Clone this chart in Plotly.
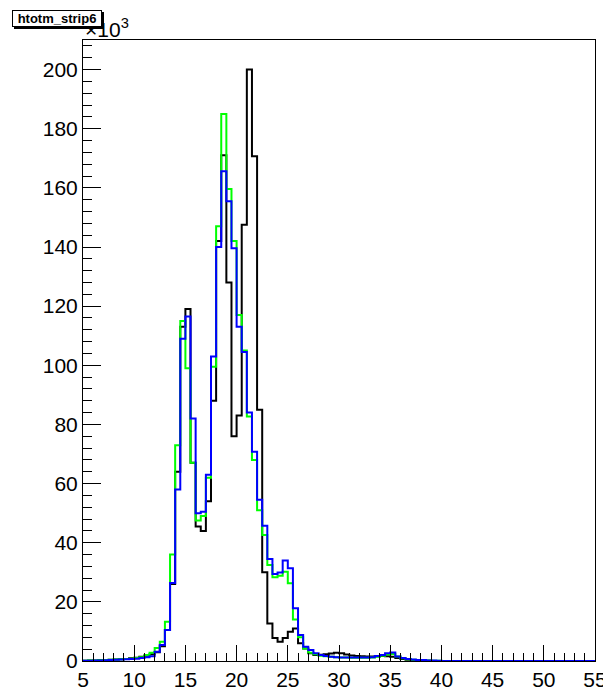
import numpy as np
from plotly import graph_objects as go

# histogram htotm_strip6: 100 bins of width 0.5 from 5 to 55, contents in units of 10^3
x_low = 5.0
x_high = 55.0
n_bins = 100

h_black = [0.1, 0.15, 0.2, 0.3, 0.35, 0.4, 0.5, 0.6, 0.7, 0.9,
           1.1, 1.4, 1.8, 2.3, 3.0, 5.0, 10.5, 26, 64, 113,
           119, 67, 45.5, 44, 54, 88, 142, 171, 128, 76,
           83, 147.5, 200, 170.7, 85, 30, 12.7, 7.8, 6.5, 7.8,
           9.9, 11, 6, 4.2, 2.6, 2.0, 2.1, 2.3, 2.5, 2.8,
           2.6, 2.2, 1.9, 1.7, 1.6, 1.5, 1.5, 1.6, 1.7, 1.6,
           1.4, 1.0, 0.7, 0.4, 0.25, 0.15, 0.08, 0.05, 0.03, 0.02] + [0] * 30

h_green = [0.1, 0.15, 0.2, 0.25, 0.3, 0.4, 0.5, 0.6, 0.7, 0.8,
           1.0, 1.3, 2.0, 2.8, 4.4, 6.5, 13.3, 36, 73, 115,
           99, 67, 47.5, 49, 62, 99.5, 147, 185, 159.6, 142,
           117, 105, 82.7, 68, 51, 42.6, 32.5, 28.3, 28.8, 30.2,
           26.3, 14, 8, 4.2, 2.8, 2.3, 1.8, 1.6, 1.4, 1.3,
           1.2, 1.2, 1.1, 1.1, 1.1, 1.1, 1.2, 1.4, 1.8, 2.2,
           2.4, 1.5, 0.9, 0.6, 0.4, 0.3, 0.2, 0.15, 0.1, 0.05] + [0] * 30

h_blue = [0.05, 0.1, 0.15, 0.2, 0.25, 0.3, 0.4, 0.5, 0.6, 0.7,
          0.8, 1.0, 1.3, 1.6, 3.1, 5.4, 10.5, 26.4, 58, 109,
          116.5, 82, 50, 50.5, 63, 103, 140, 165.6, 155.5, 139.6,
          113, 104.5, 84, 70.8, 54.5, 45.7, 34.5, 29.4, 29.9, 34,
          31.4, 17.8, 8.8, 4.8, 3.7, 2.6, 2.0, 1.7, 1.4, 1.3,
          1.2, 1.2, 1.2, 1.2, 1.2, 1.2, 1.3, 1.7, 2.0, 2.6,
          2.9, 1.5, 1.0, 0.7, 0.5, 0.35, 0.3, 0.2, 0.15, 0.1] + [0] * 30

x_ticks = [5, 10, 15, 20, 25, 30, 35, 40, 45, 50, 55]
y_ticks = [0, 20, 40, 60, 80, 100, 120, 140, 160, 180, 200]

edges = np.linspace(x_low, x_high, n_bins + 1)
font = "Liberation Sans, Arial, Helvetica, sans-serif"


def step(vals, color, name):
    y = list(vals) + [vals[-1]]
    return go.Scatter(x=edges, y=y, mode="lines", name=name,
                      line=dict(color=color, width=2, shape="hv"))


fig = go.Figure()
fig.add_trace(step(h_black, "#000000", "black"))
fig.add_trace(step(h_green, "#00ff00", "green"))
fig.add_trace(step(h_blue, "#0000ff", "blue"))

# page body has an 8px margin, so the figure is a bit smaller than the window
fig.update_layout(
    width=603, height=682,
    margin=dict(l=75, r=16, t=32, b=29),
    paper_bgcolor="white", plot_bgcolor="white",
    showlegend=False,
    font=dict(family=font, size=21, color="black"),
)
fig.update_xaxes(range=[x_low, x_high], tickvals=x_ticks, automargin=False,
                 ticks="inside", ticklen=16, tickwidth=1, tickcolor="black",
                 minor=dict(dtick=1, ticks="inside", ticklen=8, tickwidth=1, tickcolor="black"),
                 showline=True, linecolor="black", linewidth=1, mirror=True,
                 showgrid=False, zeroline=False, tickfont=dict(size=21))
fig.update_yaxes(range=[0, 210], tickvals=y_ticks, automargin=False,
                 ticks="inside", ticklen=18, tickwidth=1, tickcolor="black",
                 minor=dict(dtick=4, ticks="inside", ticklen=9, tickwidth=1, tickcolor="black"),
                 showline=True, linecolor="black", linewidth=1, mirror=True,
                 showgrid=False, zeroline=False, tickfont=dict(size=21))

# x10^3 exponent label
fig.add_annotation(text="×10<sup>3</sup>", xref="paper", yref="paper",
                   x=0.0, y=0.995, xanchor="left", yanchor="bottom",
                   showarrow=False, font=dict(size=21, family=font))
# title box with shadow
fig.add_annotation(text="<b>htotm_strip6</b>", xref="paper", yref="paper",
                   x=(14 - 83) / 512, y=(661 - 12) / 621, xanchor="left", yanchor="top",
                   width=86, height=13, showarrow=False, bgcolor="black",
                   bordercolor="black", borderwidth=1, borderpad=1,
                   font=dict(size=13, family=font, color="black"))
fig.add_annotation(text="<b>htotm_strip6</b>", xref="paper", yref="paper",
                   x=(12 - 83) / 512, y=(661 - 10) / 621, xanchor="left", yanchor="top",
                   width=86, height=13, showarrow=False, bgcolor="white",
                   bordercolor="black", borderwidth=1, borderpad=1,
                   font=dict(size=13, family=font, color="black"))

fig.write_html("out.html")
